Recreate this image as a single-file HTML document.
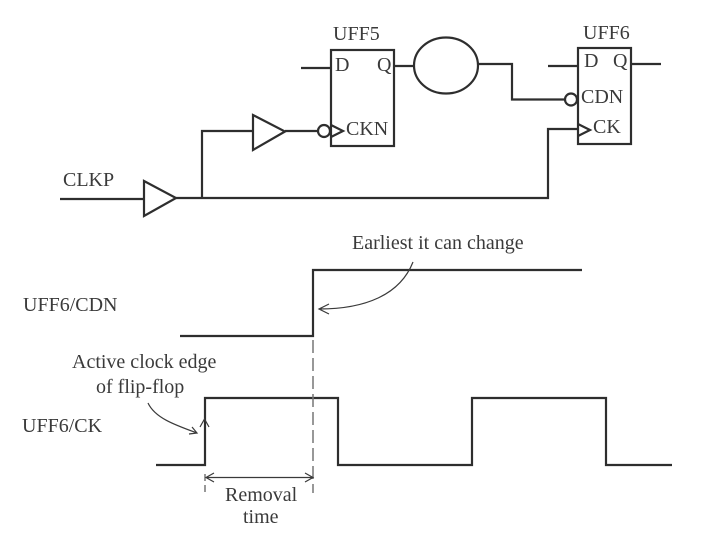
<!DOCTYPE html>
<html><head><meta charset="utf-8"><style>
html,body{margin:0;padding:0;background:#fff;width:706px;height:533px;overflow:hidden}
svg{display:block}
text{font-family:"Liberation Serif",serif;fill:#3a3a3a;font-size:20px}
.l{fill:none;stroke:#2e2e2e;stroke-width:2.2}
.t{fill:none;stroke:#3a3a3a;stroke-width:1.2}
</style></head><body>
<svg width="706" height="533" viewBox="0 0 706 533" xmlns="http://www.w3.org/2000/svg">
<g style="filter:blur(0.35px)">
<rect class="l" x="331" y="50" width="63" height="96"/>
<rect class="l" x="578" y="48" width="53" height="96"/>
<path class="l" d="M301 68H331M394 66H414M548 66H578M631 64H661"/>
<ellipse class="l" cx="446" cy="65.500" rx="32" ry="28"/>
<path class="l" d="M478 64H512V99.500H565"/>
<circle class="l" cx="571" cy="99.500" r="6"/>
<path class="l" d="M578 124L590 130L578 136"/>
<path class="l" d="M253 115L285 131.500L253 150Z"/>
<path class="l" d="M285 131H318"/>
<circle class="l" cx="324" cy="131" r="6"/>
<path class="l" d="M331 125L343 131L331 137"/>
<path class="l" d="M144 181L176 198L144 216Z"/>
<path class="l" d="M60 199H144M176 198H548V129H578M202 198V131H253"/>
<path class="l" d="M180 336H313V270H582"/>
<path class="l" d="M156 465H205V398H338V465H472V398H606V465H672"/>
<path d="M313 340V493" fill="none" stroke="#777" stroke-width="1.500" stroke-dasharray="13 5"/>
<path d="M205 474V493" fill="none" stroke="#777" stroke-width="1.500" stroke-dasharray="7 4"/>
<path class="t" d="M206 477.500H313M214 473L206 477.500L214 482M305 473L313 477.500L305 482"/>
<path class="t" d="M200 427L204.500 419L209 427"/>
<path class="t" d="M148 403C155 418 175 425 197 433M189 434L197 433L192 427"/>
<path class="t" d="M413 262C400 295 365 309 319 309M329 304L319 309L329 314"/>
<text x="333" y="40">UFF5</text>
<text x="335" y="71">D</text>
<text x="377" y="71">Q</text>
<text x="346" y="135">CKN</text>
<text x="583" y="39">UFF6</text>
<text x="584" y="67">D</text>
<text x="613" y="67">Q</text>
<text x="581" y="103">CDN</text>
<text x="593" y="133">CK</text>
<text x="63" y="186">CLKP</text>
<text x="352" y="249">Earliest it can change</text>
<text x="23" y="311">UFF6/CDN</text>
<text x="22" y="432">UFF6/CK</text>
<text x="72" y="368">Active clock edge</text>
<text x="96" y="393">of flip-flop</text>
<text x="225" y="501">Removal</text>
<text x="243" y="523">time</text>
</g>
</svg>
</body></html>
